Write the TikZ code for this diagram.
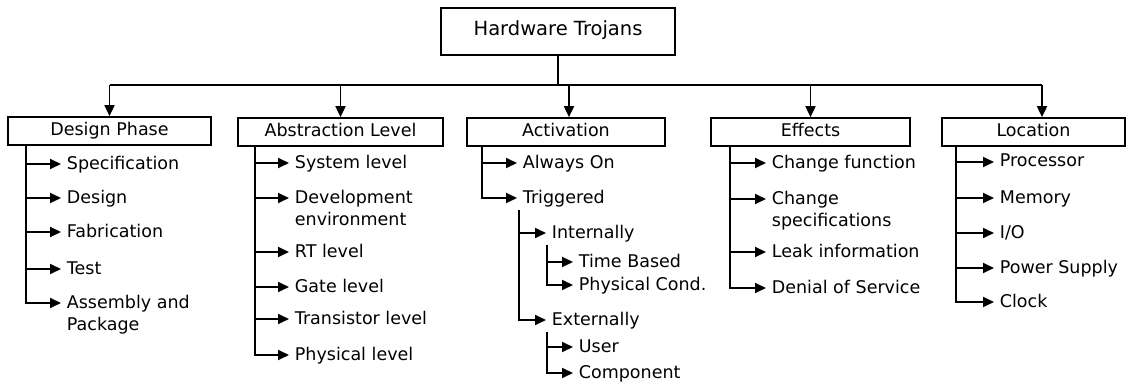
\documentclass[tikz,border=0pt]{standalone}
\usepackage{fontspec}
\setmainfont{DejaVu Sans}
\usetikzlibrary{arrows.meta}
\begin{document}
\begin{tikzpicture}[x=1pt,y=-1pt,
  line width=1.8pt,
  txt/.style={font=\fontsize{17.5}{22}\selectfont},
  box/.style={draw, line width=1.7pt, txt, minimum height=28pt, inner sep=0pt, text height=13pt, text depth=4pt},
  item/.style={txt, anchor=base west, inner xsep=5pt, inner ysep=2pt},
  item2/.style={txt, anchor=north west, inner xsep=5pt, inner ysep=2pt, align=left},
  arr/.style={-{Triangle[length=11pt,width=10pt]}, line width=1.8pt},
]
\useasboundingbox (0,0) rectangle (1135,385);

% root and categories
\node[box, minimum width=234pt, minimum height=47pt, font=\fontsize{19.5}{22}\selectfont] (ht) at (558,31.5) {Hardware Trojans};
\coordinate (bus) at (558,85);
\node[box, minimum width=203pt] (dp) at (109.5,131) {Design Phase};
\node[box, minimum width=205pt] (al) at (340.5,132) {Abstraction Level};
\node[box, minimum width=198pt] (ac) at (566,132) {Activation};
\node[box, minimum width=199pt] (ef) at (810.5,132) {Effects};
\node[box, minimum width=183pt] (lo) at (1033.5,132) {Location};

\draw (ht.south) -- (bus);
\draw (dp.north |- bus) -- ([xshift=8.5pt]lo.north |- bus);
\draw[arr] (dp.north |- bus) -- (dp.north);
\draw[arr] (al.north |- bus) -- (al.north);
\draw[arr] ([xshift=3pt]ac.north |- bus) -- ([xshift=3pt]ac.north);
\draw[arr] (ef.north |- bus) -- (ef.north);
\draw[arr] ([xshift=8.5pt]lo.north |- bus) -- ([xshift=8.5pt]lo.north);

% Design Phase
\node[item] (spec) at (61,169) {Specification};
\node[item] (des) at (61,203) {Design};
\node[item] (fab) at (61,237) {Fabrication};
\node[item] (test) at (61,274) {Test};
\node[item2] (asm) at (61,292.7) {Assembly and\\Package};
\foreach \n in {spec,des,fab,test}
  \draw[arr] ([xshift=19pt]dp.south west) |- ([yshift=5pt]\n.base west);
\draw[arr] ([xshift=19pt]dp.south west) |- ([yshift=-10.3pt]asm.north west);

% Abstraction Level
\node[item] (sys) at (289,168) {System level};
\node[item2] (dev) at (289,187.7) {Development\\environment};
\node[item] (rt) at (289,257) {RT level};
\node[item] (gate) at (289,292) {Gate level};
\node[item] (trans) at (289,324) {Transistor level};
\node[item] (phys) at (289,360) {Physical level};
\foreach \n in {sys,rt,gate,trans,phys}
  \draw[arr] ([xshift=18pt]al.south west) |- ([yshift=5pt]\n.base west);
\draw[arr] ([xshift=18pt]al.south west) |- ([yshift=-10.3pt]dev.north west);

% Activation
\node[item] (aon) at (517,168) {Always On};
\node[item] (trig) at (517,203) {Triggered};
\node[item] (int) at (546,238) {Internally};
\node[item] (ext) at (546,325) {Externally};
\node[item] (tb) at (573,267) {Time Based};
\node[item] (pc) at (573,290) {Physical Cond.};
\node[item] (user) at (573,352) {User};
\node[item] (comp) at (573,378) {Component};
\foreach \n in {aon,trig}
  \draw[arr] ([xshift=16pt]ac.south west) |- ([yshift=5pt]\n.base west);
\foreach \n in {int,ext}
  \draw[arr] ([xshift=2pt]trig.south west) |- ([yshift=5pt]\n.base west);
\foreach \n in {tb,pc}
  \draw[arr] ([xshift=1pt]int.south west) |- ([yshift=5pt]\n.base west);
\foreach \n in {user,comp}
  \draw[arr] ([xshift=1pt]ext.south west) |- ([yshift=5pt]\n.base west);

% Effects
\node[item] (cf) at (766,168) {Change function};
\node[item2] (cs) at (766,188.7) {Change\\specifications};
\node[item] (leak) at (766,257) {Leak information};
\node[item] (dos) at (766,293) {Denial of Service};
\foreach \n in {cf,leak,dos}
  \draw[arr] ([xshift=20pt]ef.south west) |- ([yshift=5pt]\n.base west);
\draw[arr] ([xshift=20pt]ef.south west) |- ([yshift=-10.3pt]cs.north west);

% Location
\node[item] (proc) at (994,167) {Processor};
\node[item] (mem) at (994,203) {Memory};
\node[item] (io) at (994,238) {I/O};
\node[item] (ps) at (994,273) {Power Supply};
\node[item] (clk) at (994,307) {Clock};
\foreach \n in {proc,mem,io,ps,clk}
  \draw[arr] ([xshift=15pt]lo.south west) |- ([yshift=5pt]\n.base west);
\end{tikzpicture}
\end{document}
